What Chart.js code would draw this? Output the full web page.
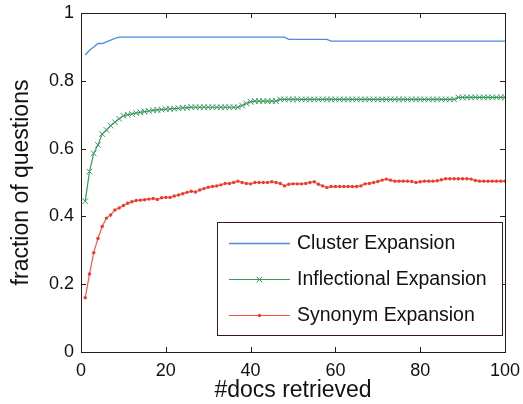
<!DOCTYPE html>
<html>
<head>
<meta charset="utf-8">
<script src="https://cdn.jsdelivr.net/npm/chart.js@4"></script>
<style>
    html, body { margin: 0; padding: 0; background: #fff; }
    #wrap { width: 523px; height: 404px; }
</style>
</head>
<body>
<div id="wrap"><canvas id="myChart" width="523" height="404"></canvas></div>
<script>
// #docs retrieved
const docs = [1, 2, 3, 4, 5, 6, 7, 8, 9, 10, 11, 12, 13, 14, 15, 16, 17, 18, 19, 20,
    21, 22, 23, 24, 25, 26, 27, 28, 29, 30, 31, 32, 33, 34, 35, 36, 37, 38, 39, 40,
    41, 42, 43, 44, 45, 46, 47, 48, 49, 50, 51, 52, 53, 54, 55, 56, 57, 58, 59, 60,
    61, 62, 63, 64, 65, 66, 67, 68, 69, 70, 71, 72, 73, 74, 75, 76, 77, 78, 79, 80,
    81, 82, 83, 84, 85, 86, 87, 88, 89, 90, 91, 92, 93, 94, 95, 96, 97, 98, 99, 100];

const clusterExpansion = [0.876, 0.89, 0.90, 0.91, 0.91, 0.915, 0.92, 0.925, 0.929, 0.929,
    0.929, 0.929, 0.929, 0.929, 0.929, 0.929, 0.929, 0.929, 0.929, 0.929,
    0.929, 0.929, 0.929, 0.929, 0.929, 0.929, 0.929, 0.929, 0.929, 0.929,
    0.929, 0.929, 0.929, 0.929, 0.929, 0.929, 0.929, 0.929, 0.929, 0.929,
    0.929, 0.929, 0.929, 0.929, 0.929, 0.929, 0.929, 0.929, 0.922, 0.922,
    0.922, 0.922, 0.922, 0.922, 0.922, 0.922, 0.922, 0.922, 0.917, 0.917,
    0.917, 0.917, 0.917, 0.917, 0.917, 0.917, 0.917, 0.917, 0.917, 0.917,
    0.917, 0.917, 0.917, 0.917, 0.917, 0.917, 0.917, 0.917, 0.917, 0.917,
    0.917, 0.917, 0.917, 0.917, 0.917, 0.917, 0.917, 0.917, 0.917, 0.917,
    0.917, 0.917, 0.917, 0.917, 0.917, 0.917, 0.917, 0.917, 0.917, 0.917];

const inflectionalExpansion = [0.445, 0.532, 0.586, 0.611, 0.643, 0.655, 0.668, 0.678, 0.688, 0.697,
    0.700, 0.702, 0.705, 0.707, 0.709, 0.711, 0.713, 0.714, 0.715, 0.716,
    0.717, 0.718, 0.719, 0.720, 0.721, 0.722, 0.722, 0.722, 0.722, 0.722,
    0.722, 0.722, 0.722, 0.722, 0.722, 0.722, 0.722, 0.727, 0.733, 0.738,
    0.740, 0.740, 0.740, 0.740, 0.740, 0.740, 0.745, 0.745, 0.745, 0.745,
    0.745, 0.745, 0.745, 0.745, 0.745, 0.745, 0.745, 0.745, 0.745, 0.745,
    0.745, 0.745, 0.745, 0.745, 0.745, 0.745, 0.745, 0.745, 0.745, 0.745,
    0.745, 0.745, 0.745, 0.745, 0.745, 0.745, 0.745, 0.745, 0.745, 0.745,
    0.745, 0.745, 0.745, 0.745, 0.745, 0.745, 0.745, 0.745, 0.751, 0.751,
    0.751, 0.751, 0.751, 0.751, 0.751, 0.751, 0.751, 0.751, 0.751, 0.751];

const synonymExpansion = [0.16, 0.23, 0.293, 0.335, 0.37, 0.395, 0.404, 0.419, 0.425, 0.432,
    0.439, 0.443, 0.447, 0.448, 0.449, 0.451, 0.453, 0.450, 0.455, 0.456,
    0.456, 0.460, 0.463, 0.467, 0.471, 0.474, 0.472, 0.478, 0.482, 0.486,
    0.488, 0.490, 0.493, 0.497, 0.497, 0.500, 0.504, 0.500, 0.497, 0.496,
    0.500, 0.500, 0.500, 0.500, 0.502, 0.500, 0.497, 0.490, 0.495, 0.496,
    0.496, 0.496, 0.497, 0.500, 0.502, 0.495, 0.490, 0.485, 0.488, 0.488,
    0.488, 0.488, 0.488, 0.488, 0.488, 0.490, 0.496, 0.497, 0.500, 0.503,
    0.507, 0.510, 0.507, 0.504, 0.504, 0.504, 0.504, 0.503, 0.500, 0.502,
    0.504, 0.504, 0.504, 0.505, 0.508, 0.511, 0.511, 0.511, 0.511, 0.511,
    0.511, 0.510, 0.506, 0.504, 0.504, 0.504, 0.504, 0.504, 0.504, 0.504];

const xTicks = [0, 20, 40, 60, 80, 100];
const yTicks = [0, 0.2, 0.4, 0.6, 0.8, 1];

const font = "'Liberation Sans', Arial, sans-serif";

// MATLAB style box with inward ticks on all four sides
const framePlugin = {
    id: 'frame',
    afterDatasetsDraw(chart) {
        let ctx = chart.ctx;
        let a = chart.chartArea;
        let xs = chart.scales.x;
        let ys = chart.scales.y;
        ctx.save();
        ctx.strokeStyle = '#2a1a14';
        ctx.lineWidth = 1;
        ctx.strokeRect(a.left + 0.5, a.top + 0.5, a.right - a.left, a.bottom - a.top);
        ctx.beginPath();
        xTicks.forEach((v) => {
            let px = Math.round(xs.getPixelForValue(v)) + 0.5;
            ctx.moveTo(px, a.bottom); ctx.lineTo(px, a.bottom - 5);
            ctx.moveTo(px, a.top); ctx.lineTo(px, a.top + 5);
        });
        yTicks.forEach((v) => {
            let py = Math.round(ys.getPixelForValue(v)) + 0.5;
            ctx.moveTo(a.left, py); ctx.lineTo(a.left + 5, py);
            ctx.moveTo(a.right, py); ctx.lineTo(a.right - 5, py);
        });
        ctx.stroke();
        ctx.restore();
    }
};

// legend box inside the plot, lower right
const boxLegendPlugin = {
    id: 'boxLegend',
    afterDraw(chart) {
        let ctx = chart.ctx;
        let left = 217, top = 222, right = 502, bottom = 335;
        ctx.save();
        ctx.fillStyle = '#fff';
        ctx.fillRect(left, top, right - left, bottom - top);
        ctx.strokeStyle = '#3a1a12';
        ctx.lineWidth = 1;
        ctx.strokeRect(left + 0.5, top + 0.5, right - left, bottom - top);
        ctx.font = '19.5px ' + font;
        ctx.textBaseline = 'middle';
        chart.data.datasets.forEach((ds, i) => {
            let y = 243 + i * 36;
            ctx.strokeStyle = ds.borderColor;
            ctx.lineWidth = ds.borderWidth;
            ctx.beginPath();
            ctx.moveTo(229, y + 0.5);
            ctx.lineTo(290, y + 0.5);
            ctx.stroke();
            if (ds.pointRadius > 0) {
                ctx.fillStyle = ds.pointBackgroundColor;
                ctx.strokeStyle = ds.pointBorderColor;
                ctx.lineWidth = ds.pointBorderWidth || 1;
                Chart.helpers.drawPoint(ctx, {
                    pointStyle: ds.pointStyle,
                    radius: ds.pointRadius,
                    borderWidth: ds.pointBorderWidth
                }, 259.5, y + 0.5);
            }
            ctx.fillStyle = '#111';
            ctx.fillText(ds.label, 297, y + 1);
        });
        ctx.restore();
    }
};

function toPoints(values) {
    return values.map((v, i) => ({x: docs[i], y: v}));
}

let ctx = document.getElementById('myChart').getContext('2d');
let myChart = new Chart(ctx, {
    type: 'line',
    data: {
        datasets: [{
            label: 'Cluster Expansion',
            data: toPoints(clusterExpansion),
            borderColor: '#4f8ae6',
            borderWidth: 1.3,
            pointRadius: 0,
            tension: 0
        }, {
            label: 'Inflectional Expansion',
            data: toPoints(inflectionalExpansion),
            borderColor: '#2f9f5a',
            borderWidth: 1.2,
            pointStyle: 'crossRot',
            pointRadius: 4,
            pointBorderWidth: 1,
            pointBorderColor: '#3a9a5a',
            pointBackgroundColor: '#3a9a5a',
            tension: 0
        }, {
            label: 'Synonym Expansion',
            data: toPoints(synonymExpansion),
            borderColor: '#f4593f',
            borderWidth: 1.2,
            pointStyle: 'circle',
            pointRadius: 1.7,
            pointBorderWidth: 0,
            pointBorderColor: '#ee3a2a',
            pointBackgroundColor: '#ee3a2a',
            tension: 0
        }]
    },
    options: {
        responsive: false,
        animation: false,
        layout: {
            padding: {top: 13, right: 18, left: 0, bottom: 0}
        },
        plugins: {
            legend: {display: false},
            tooltip: {enabled: false}
        },
        scales: {
            x: {
                type: 'linear',
                min: 0,
                max: 100,
                afterBuildTicks: (scale) => { scale.ticks = xTicks.map((v) => ({value: v})); },
                afterFit: (scale) => {
                    scale.height = 52;
                    scale.paddingLeft = 0;
                    scale.paddingRight = 0;
                },
                grid: {display: false, drawTicks: false},
                border: {display: false},
                ticks: {
                    color: '#111',
                    padding: 8,
                    maxRotation: 0,
                    font: {family: font, size: 18}
                },
                title: {
                    display: true,
                    text: '#docs retrieved',
                    color: '#111',
                    padding: {top: 0, bottom: 0},
                    font: {family: font, size: 23}
                }
            },
            y: {
                type: 'linear',
                min: 0,
                max: 1,
                afterBuildTicks: (scale) => { scale.ticks = yTicks.map((v) => ({value: v})); },
                afterFit: (scale) => {
                    scale.width = 81;
                    scale.paddingTop = 0;
                    scale.paddingBottom = 0;
                },
                grid: {display: false, drawTicks: false},
                border: {display: false},
                ticks: {
                    color: '#111',
                    padding: 7,
                    font: {family: font, size: 18},
                    callback: (v) => String(v)
                },
                title: {
                    display: true,
                    text: 'fraction of questions',
                    color: '#111',
                    padding: {top: 8, bottom: 0},
                    font: {family: font, size: 23}
                }
            }
        }
    },
    plugins: [framePlugin, boxLegendPlugin]
});
</script>
</body>
</html>
